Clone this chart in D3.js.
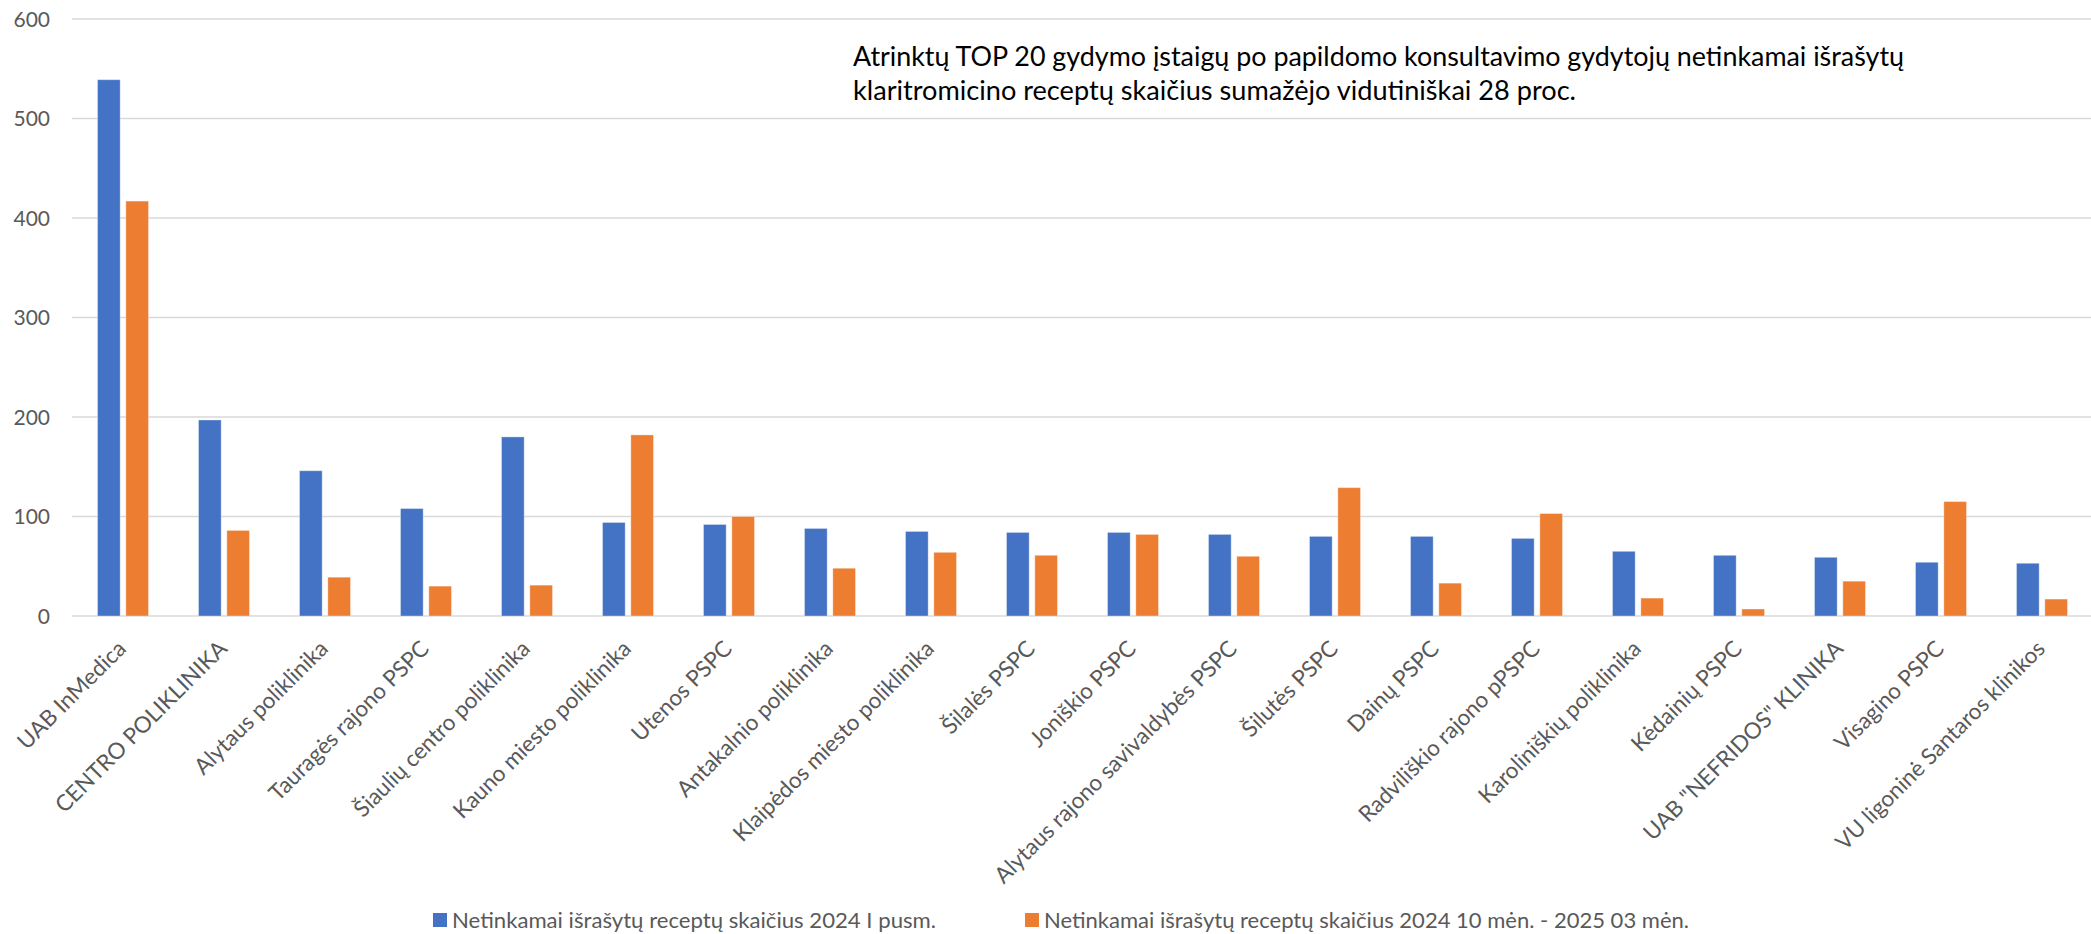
<!DOCTYPE html>
<html>
<head>
<meta charset="utf-8">
<script src="https://cdn.jsdelivr.net/npm/d3@7"></script>
<style>
  html, body { margin: 0; padding: 0; background: #ffffff; }
  svg { display: block; }
</style>
</head>
<body>
<svg id="chart" width="2091" height="934"></svg>
<script>
// ---- data ----
const categories = [
  "UAB InMedica", "CENTRO POLIKLINIKA", "Alytaus poliklinika", "Tauragės rajono PSPC",
  "Šiaulių centro poliklinika", "Kauno miesto poliklinika", "Utenos PSPC", "Antakalnio poliklinika",
  "Klaipėdos miesto poliklinika", "Šilalės PSPC", "Joniškio PSPC", "Alytaus rajono savivaldybės PSPC",
  "Šilutės PSPC", "Dainų PSPC", "Radviliškio rajono pPSPC", "Karoliniškių poliklinika",
  "Kėdainių PSPC", "UAB \"NEFRIDOS\" KLINIKA", "Visagino PSPC", "VU ligoninė Santaros klinikos"
];
const series2024H1 = [539, 197, 146, 108, 180, 94, 92, 88, 85, 84, 84, 82, 80, 80, 78, 65, 61, 59, 54, 53];
const series2024to2025 = [417, 86, 39, 30, 31, 182, 100, 48, 64, 61, 82, 60, 129, 33, 103, 18, 7, 35, 115, 17];
const seriesNames = [
  "Netinkamai išrašytų receptų skaičius 2024 I pusm.",
  "Netinkamai išrašytų receptų skaičius 2024 10 mėn. - 2025 03 mėn."
];
const seriesColors = ["#4472C4", "#ED7D31"];
const yTicks = [0, 100, 200, 300, 400, 500, 600];
const titleLines = [
  "Atrinktų TOP 20 gydymo įstaigų po papildomo konsultavimo gydytojų netinkamai išrašytų",
  "klaritromicino receptų skaičius sumažėjo vidutiniškai 28 proc."
];

// ---- layout ----
const svg = d3.select("#chart");
const plotLeft = 72, plotRight = 2092, plotTop = 19, plotBottom = 616;
const font = "Lato, 'Open Sans', sans-serif";
const gray = "#595959";

const x0 = d3.scaleBand().domain(categories).range([plotLeft, plotRight]).paddingInner(0).paddingOuter(0);
const x1 = d3.scaleBand().domain([0, 1]).range([25.5, 76.5]).paddingInner(0.2);
const y = d3.scaleLinear().domain([0, 600]).range([plotBottom, plotTop]);

// gridlines
svg.append("g")
  .selectAll("line")
  .data(yTicks)
  .join("line")
  .attr("x1", plotLeft).attr("x2", 2091)
  .attr("y1", d => y(d)).attr("y2", d => y(d))
  .attr("stroke", "#d9d9d9")
  .attr("stroke-width", 1.5);

// y axis labels
const yAxis = d3.axisLeft(y).tickValues(yTicks).tickSize(0).tickPadding(0);
const yg = svg.append("g").attr("transform", "translate(50,0)").call(yAxis);
yg.select(".domain").remove();
yg.selectAll("text")
  .attr("font-family", font)
  .attr("font-size", 21)
  .attr("fill", gray)
  .attr("dy", "0.34em");

// bars
const data = categories.map((c, i) => ({ cat: c, vals: [series2024H1[i], series2024to2025[i]] }));
const groups = svg.append("g").selectAll("g")
  .data(data)
  .join("g")
  .attr("transform", d => `translate(${x0(d.cat)},0)`);
groups.selectAll("rect")
  .data(d => d.vals.map((v, k) => ({ k, v })))
  .join("rect")
  .attr("x", d => x1(d.k))
  .attr("width", x1.bandwidth())
  .attr("y", d => y(d.v))
  .attr("height", d => y(0) - y(d.v))
  .attr("fill", d => seriesColors[d.k])
  .attr("stroke", "#ffffff")
  .attr("stroke-opacity", 0.35)
  .attr("stroke-width", 1);

// x axis labels (rotated)
const xAxis = d3.axisBottom(x0).tickSize(0).tickPadding(0);
const xg = svg.append("g").attr("transform", `translate(0,${plotBottom})`).call(xAxis);
xg.select(".domain").remove();
xg.selectAll("text")
  .attr("font-family", font)
  .attr("font-size", 22.5)
  .attr("fill", gray)
  .attr("text-anchor", "end")
  .attr("dy", null)
  .attr("y", 0)
  .attr("transform", "translate(5,34) rotate(-45)");

// title
const titleX = 853;
const titleLens = [1051, 723];
svg.append("g").selectAll("text")
  .data(titleLines)
  .join("text")
  .attr("x", titleX)
  .attr("y", (d, i) => 66 + i * 34)
  .attr("font-family", font)
  .attr("font-size", 26)
  .attr("fill", "#000000")
  .attr("textLength", (d, i) => titleLens[i])
  .attr("lengthAdjust", "spacingAndGlyphs")
  .text(d => d);

// legend
const legendX = [433, 1025];
const legendLens = [484, 645];
const lg = svg.append("g").selectAll("g")
  .data(seriesNames)
  .join("g")
  .attr("transform", (d, i) => `translate(${legendX[i]},0)`);
lg.append("rect")
  .attr("x", 0).attr("y", 913)
  .attr("width", 14).attr("height", 14)
  .attr("fill", (d, i) => seriesColors[i]);
lg.append("text")
  .attr("x", 19).attr("y", 928)
  .attr("font-family", font)
  .attr("font-size", 22)
  .attr("fill", gray)
  .attr("textLength", (d, i) => legendLens[i])
  .attr("lengthAdjust", "spacingAndGlyphs")
  .text(d => d);
</script>
</body>
</html>
